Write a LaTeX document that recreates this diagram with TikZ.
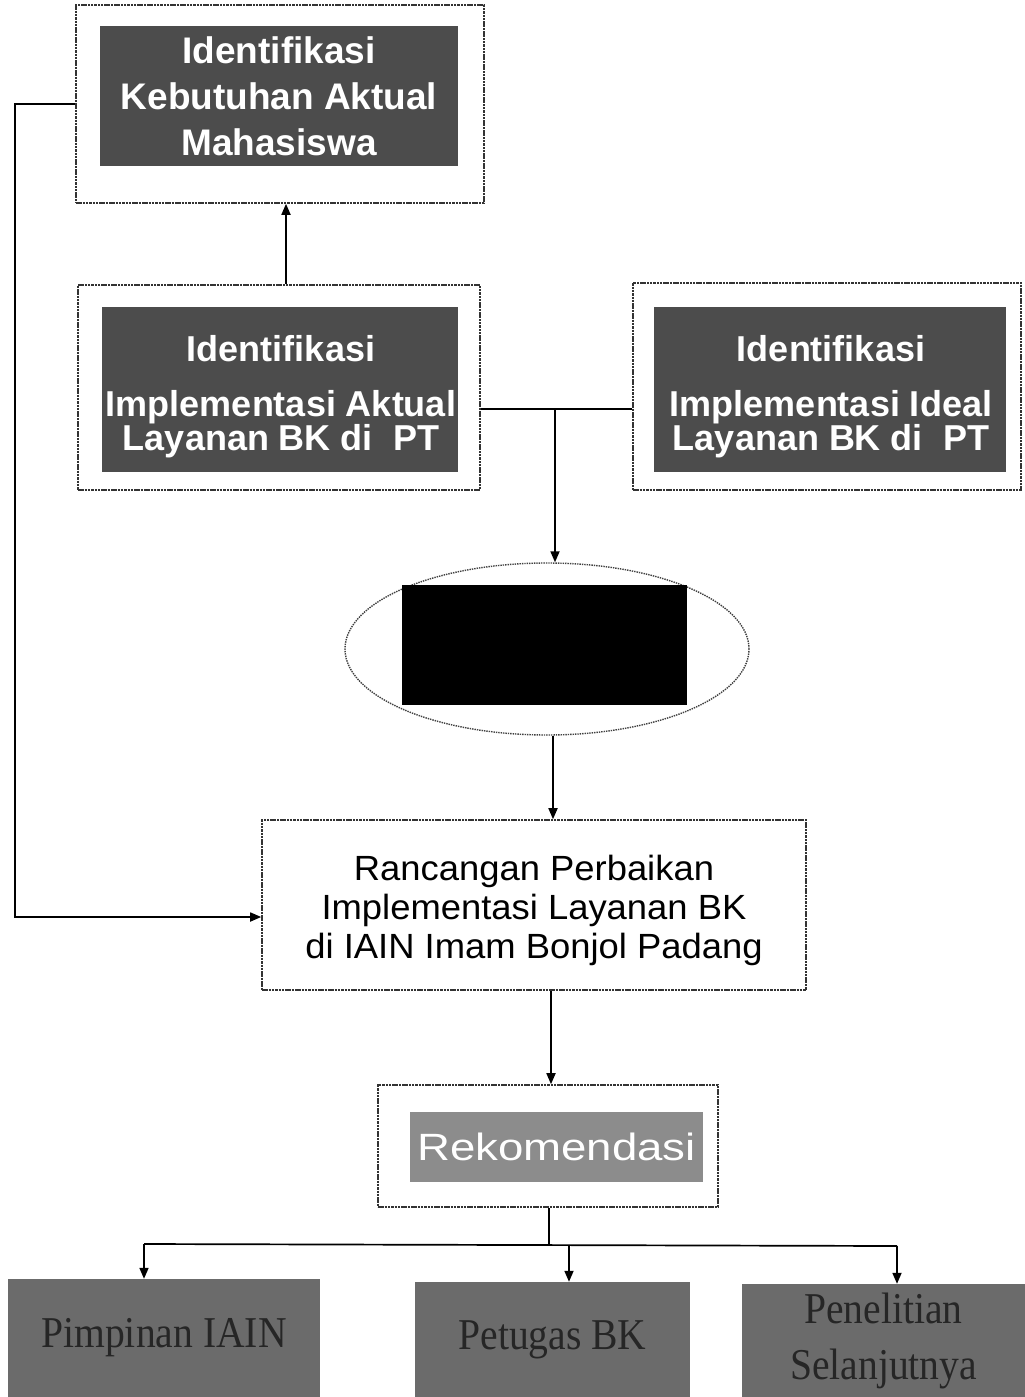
\documentclass[tikz,border=0pt]{standalone}
\usepackage{fontspec}
\setmainfont{Liberation Sans}
\newfontfamily\widesans[FakeStretch=1.04]{Liberation Sans}
\newfontfamily\rekfont[FakeStretch=1.2]{Liberation Sans}
\newfontfamily\condserif[FakeStretch=0.9]{Liberation Serif}
\usetikzlibrary{arrows.meta,shapes.geometric}
\tikzset{
  frame/.style={draw=black!80,line width=1.6pt,dash pattern=on 2.5pt off 0.8pt,inner sep=0pt,fill=white},
  darkbox/.style={fill=black!70,text=white,inner sep=0pt,align=center},
  topfont/.style={font=\bfseries\fontsize{37}{46}\selectfont},
  midfont/.style={font=\bfseries\fontsize{36}{30.5}\selectfont},
  grayfoot/.style={fill=black!58,text=black!85,inner sep=0pt,align=center,font=\condserif\fontsize{44}{56}\selectfont},
  link/.style={line width=1.7pt,draw=black},
  arr/.style={link,-{Triangle[length=11pt,width=9pt]}}
}
\begin{document}
\begin{tikzpicture}[x=1pt,y=-1pt]
\useasboundingbox[fill=white] (0,0) rectangle (1025,1397);

% top box A
\node[frame,minimum width=408pt,minimum height=198pt] (A) at (280,104) {};
\node[darkbox,topfont,minimum width=358pt,minimum height=140pt] (Ai) at (279,96)
  {Identifikasi\\Kebutuhan Aktual\\Mahasiswa};

% box B
\node[frame,minimum width=402pt,minimum height=205pt] (B) at (279,387.5) {};
\node[darkbox,minimum width=356pt,minimum height=165pt] (Bi) at (280,389) {};
\node[text=white,align=center,inner sep=0pt,midfont] (Bt) at (281,397)
  {Identifikasi\\[24pt]Implementasi Aktual\\Layanan BK di\ \ PT};

% box C
\node[frame,minimum width=388pt,minimum height=207pt] (C) at (827,386.5) {};
\node[darkbox,minimum width=352pt,minimum height=165pt] (Ci) at (830,389) {};
\node[text=white,align=center,inner sep=0pt,midfont] (Ct) at (831,397)
  {Identifikasi\\[24pt]Implementasi Ideal\\Layanan BK di\ \ PT};

% ellipse
\node[ellipse,draw=black!75,line width=1.4pt,densely dotted,minimum width=404pt,minimum height=172pt,inner sep=0pt] (E) at (547,649) {};
\node[fill=black,minimum width=285pt,minimum height=120pt,inner sep=0pt] (Ei) at (544.5,645) {};

% box D
\node[frame,minimum width=544pt,minimum height=170pt] (D) at (534,905) {};
\node[inner sep=0pt,align=center,font=\widesans\fontsize{35}{39}\selectfont] (Dt) at (534,910)
  {Rancangan Perbaikan\\Implementasi Layanan BK\\di IAIN Imam Bonjol Padang};

% Rekomendasi
\node[frame,minimum width=340pt,minimum height=122pt] (R) at (548,1146) {};
\node[fill=black!45,text=white,inner sep=0pt,minimum width=293pt,minimum height=70pt,font=\rekfont\fontsize{38}{40}\selectfont] (Ri) at (556.5,1147) {Rekomendasi};

% bottom boxes
\node[grayfoot,minimum width=312pt,minimum height=118pt] (P1) at (164,1338) {Pimpinan IAIN};
\node[grayfoot,minimum width=275pt,minimum height=115pt] (P2) at (552.5,1339.5) {Petugas BK};
\node[grayfoot,minimum width=283pt,minimum height=113pt] (P3) at (883.5,1340.5) {Penelitian\\Selanjutnya};

% connectors
\draw[arr] (B.north -| 286,0) -- (A.south -| 286,0);
\coordinate (lc) at (15,917);
\draw[arr] (A.west) -| (lc) -- (D.west |- lc);
\coordinate (bc) at (555,409);
\draw[link] (B.east |- bc) -- (C.west |- bc);
\draw[arr] (bc) -- (bc |- E.north);
\draw[arr] (E.south -| 553,0) -- (D.north -| 553,0);
\draw[arr] (D.south -| 551,0) -- (R.north -| 551,0);
\coordinate (hj) at (549,1244);
\coordinate (h1) at (144,1244);
\coordinate (h2) at (569,1245);
\coordinate (h3) at (897,1246);
\draw[link] (R.south -| hj) -- (hj);
\draw[link] (h1) -- (h3);
\draw[arr] (h1) -- (h1 |- P1.north);
\draw[arr] (h2) -- (h2 |- P2.north);
\draw[arr] (h3) -- (h3 |- P3.north);
\end{tikzpicture}
\end{document}
